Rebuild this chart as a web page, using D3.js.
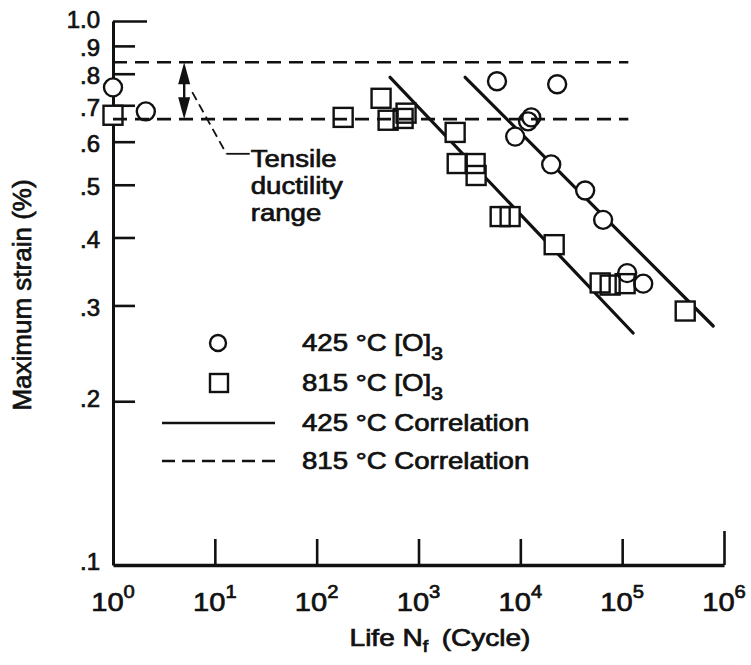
<!DOCTYPE html>
<html>
<head>
<meta charset="utf-8">
<script src="https://cdn.jsdelivr.net/npm/d3@7"></script>
<style>
  body { margin: 0; background: #fff; }
  text { font-family: "Liberation Sans", Arial, Helvetica, sans-serif; fill: #111; }
</style>
</head>
<body>
<svg id="chart" width="751" height="665"></svg>
<script>
// 425 °C [O]3 specimens: life (cycles) and maximum strain (%)
const life425   = [1, 2.1, 5900, 23000, 12800, 11900, 8900, 20100, 43300, 65000, 112000, 161000];
const strain425 = [0.755, 0.682, 0.775, 0.765, 0.665, 0.654, 0.613, 0.545, 0.488, 0.431, 0.344, 0.329];

// 815 °C [O]3 specimens
const life815   = [1, 182, 429, 503, 706, 755, 2290, 2400, 3600, 3680, 6340, 7940, 21500, 60800, 76200, 107000, 416000];
const strain815 = [0.671, 0.665, 0.721, 0.657, 0.662, 0.677, 0.624, 0.547, 0.547, 0.520, 0.437, 0.437, 0.388, 0.330, 0.327, 0.329, 0.293];

// Solid correlation lines (end points)
const corrLifeA   = [526, 128000];
const corrStrainA = [0.788, 0.267];
const corrLifeB   = [2870, 783000];
const corrStrainB = [0.788, 0.275];

// Dashed lines bounding the tensile ductility range
const ductLife   = [1, 115000];
const ductStrain = [0.84, 0.66];

// Axis ticks
const yTicks      = [1.0, 0.9, 0.8, 0.7, 0.6, 0.5, 0.4, 0.3, 0.2, 0.1];
const yTickLabels = ["1.0", ".9", ".8", ".7", ".6", ".5", ".4", ".3", ".2", ".1"];
const xTicks      = [1, 10, 100, 1000, 10000, 100000, 1000000];
const xTickExps   = ["0", "1", "2", "3", "4", "5", "6"];

// Annotation anchors (data space)
const arrowLife = 5;
const leaderLife   = [6, 13, 22];
const leaderStrain = [0.74, 0.57, 0.57];
const noteLines = ["Tensile", "ductility", "range"];

const legendLabels = ["425 °C [O]", "815 °C [O]", "425 °C Correlation", "815 °C Correlation"];

const svg = d3.select("#chart");
const INK = "#111";
const FONT_STROKE = 0.7;

const x = d3.scaleLog().domain([1, 1e6]).range([113, 724]);
const y = d3.scaleLog().domain([0.1, 1]).range([565, 21]);

// text drawn with a slight horizontal stretch
function wideText(parent, px, py, sx, size, anchor) {
  const g = parent.append("g").attr("transform", `translate(${px},${py}) scale(${sx},1)`);
  return g.append("text")
    .attr("text-anchor", anchor || "start")
    .attr("font-size", size)
    .attr("stroke", INK).attr("stroke-width", FONT_STROKE);
}

// ---- axes ----
const yAxis = d3.axisLeft(y).tickValues(yTicks)
  .tickSizeInner(-22).tickSizeOuter(0).tickPadding(13)
  .tickFormat((d, i) => yTickLabels[i]);
const gy = svg.append("g").attr("transform", `translate(${x(1)},0)`).call(yAxis);
gy.select(".domain").attr("stroke", INK).attr("stroke-width", 3);
gy.selectAll(".tick line").attr("stroke", INK).attr("stroke-width", 2.6)
  .filter(d => d === 1).attr("x2", 34);
gy.selectAll(".tick line").filter(d => d === 0.1).remove();
gy.selectAll(".tick text")
  .attr("font-size", 24).attr("font-family", "Liberation Sans, Arial, sans-serif")
  .attr("fill", INK).attr("stroke", INK).attr("stroke-width", FONT_STROKE)
  .attr("dy", d => d === 1 ? "0.28em" : d <= 0.2 ? "0.2em" : "0.42em");

const xAxis = d3.axisBottom(x).tickValues(xTicks)
  .tickSizeInner(-26).tickSizeOuter(0).tickFormat("");
const gx = svg.append("g").attr("transform", `translate(0,${y(0.1)})`).call(xAxis);
gx.select(".domain").attr("stroke", INK).attr("stroke-width", 3.4);
gx.selectAll(".tick line").attr("stroke", INK).attr("stroke-width", 2.6)
  .filter(d => d === 1e6).attr("y2", -34);
gx.selectAll(".tick line").filter(d => d === 1).remove();

// x tick labels 10^n
xTicks.forEach((t, i) => {
  const tx = wideText(svg, x(t), y(0.1) + 46, 1.12, 26, "middle");
  tx.append("tspan").text("10");
  tx.append("tspan").attr("font-size", 18).attr("dy", -13).text(xTickExps[i]);
});

// axis titles
const xt = wideText(svg, 440, 646, 1.22, 23, "middle");
xt.append("tspan").text("Life N");
xt.append("tspan").attr("font-size", 16).attr("dy", 6).text("f");
xt.append("tspan").attr("dy", -6).text("\u2009 (Cycle)");

svg.append("text")
  .attr("transform", `translate(31,295) rotate(-90)`)
  .attr("text-anchor", "middle").attr("font-size", 26)
  .attr("stroke", INK).attr("stroke-width", FONT_STROKE)
  .text("Maximum strain (%)");

// ---- solid correlation lines ----
const line = d3.line().x(d => x(d[0])).y(d => y(d[1]));
const corrA = corrLifeA.map((v, i) => [v, corrStrainA[i]]);
const corrB = corrLifeB.map((v, i) => [v, corrStrainB[i]]);
[corrA, corrB].forEach(pts => {
  svg.append("path").attr("d", line(pts)).attr("fill", "none")
    .attr("stroke", INK).attr("stroke-width", 3.2).attr("stroke-linecap", "round");
});

const pts425 = life425.map((v, i) => [v, strain425[i]]);
const pts815 = life815.map((v, i) => [v, strain815[i]]);
const R = 9, S = 19;

// marker backgrounds hide the solid lines
const bg = svg.append("g");
bg.selectAll("circle").data(pts425).join("circle")
  .attr("cx", d => x(d[0])).attr("cy", d => y(d[1])).attr("r", R).attr("fill", "#fff");
bg.selectAll("rect").data(pts815).join("rect")
  .attr("x", d => x(d[0]) - S / 2).attr("y", d => y(d[1]) - S / 2)
  .attr("width", S).attr("height", S).attr("fill", "#fff");

// ---- dashed ductility lines ----
ductStrain.forEach(s => {
  svg.append("path").attr("d", line(ductLife.map(n => [n, s])))
    .attr("fill", "none").attr("stroke", INK).attr("stroke-width", 2.6)
    .attr("stroke-dasharray", "14,8");
});

// marker outlines
const fg = svg.append("g").attr("fill", "none").attr("stroke", INK).attr("stroke-width", 2.4);
fg.selectAll("circle").data(pts425).join("circle")
  .attr("cx", d => x(d[0])).attr("cy", d => y(d[1])).attr("r", R);
fg.selectAll("rect").data(pts815).join("rect")
  .attr("x", d => x(d[0]) - S / 2).attr("y", d => y(d[1]) - S / 2)
  .attr("width", S).attr("height", S);

// ---- ductility range arrow ----
const ax = x(arrowLife), aTop = y(ductStrain[0]), aBot = y(ductStrain[1]);
const headL = 22, headW = 6;
svg.append("line").attr("x1", ax).attr("x2", ax).attr("y1", aTop + 10).attr("y2", aBot - 10)
  .attr("stroke", INK).attr("stroke-width", 2.4);
svg.append("path")
  .attr("d", `M${ax},${aTop}L${ax - headW},${aTop + headL}L${ax + headW},${aTop + headL}Z`)
  .attr("fill", INK);
svg.append("path")
  .attr("d", `M${ax},${aBot}L${ax - headW},${aBot - headL}L${ax + headW},${aBot - headL}Z`)
  .attr("fill", INK);

// leader to the note
const lp = leaderLife.map((v, i) => [x(v), y(leaderStrain[i])]);
svg.append("line").attr("x1", lp[0][0]).attr("y1", lp[0][1]).attr("x2", lp[1][0]).attr("y2", lp[1][1])
  .attr("stroke", INK).attr("stroke-width", 1.8).attr("stroke-dasharray", "9,5");
svg.append("line").attr("x1", lp[1][0]).attr("y1", lp[1][1]).attr("x2", lp[2][0]).attr("y2", lp[2][1])
  .attr("stroke", INK).attr("stroke-width", 1.8);
noteLines.forEach((t, i) => {
  wideText(svg, lp[2][0] + 1, lp[2][1] + 13 + i * 27, 1.15, 24, "start").text(t);
});

// ---- legend ----
const lg = svg.append("g");
const rowY = [343, 383, 423, 461];
lg.append("circle").attr("cx", 218).attr("cy", rowY[0]).attr("r", R - 1)
  .attr("fill", "none").attr("stroke", INK).attr("stroke-width", 2.4);
lg.append("rect").attr("x", 219 - 9).attr("y", rowY[1] - 9).attr("width", 18).attr("height", 18)
  .attr("fill", "none").attr("stroke", INK).attr("stroke-width", 2.4);
lg.append("line").attr("x1", 162).attr("x2", 275).attr("y1", rowY[2]).attr("y2", rowY[2])
  .attr("stroke", INK).attr("stroke-width", 2.6);
lg.append("line").attr("x1", 162).attr("x2", 275).attr("y1", rowY[3]).attr("y2", rowY[3])
  .attr("stroke", INK).attr("stroke-width", 2.6).attr("stroke-dasharray", "13,7");
legendLabels.forEach((t, i) => {
  const tx = wideText(lg, 302, rowY[i] + 8, 1.2, 23, "start");
  tx.append("tspan").text(t);
  if (i < 2) tx.append("tspan").attr("font-size", 18).attr("dy", 9).text("3");
});
</script>
</body>
</html>
